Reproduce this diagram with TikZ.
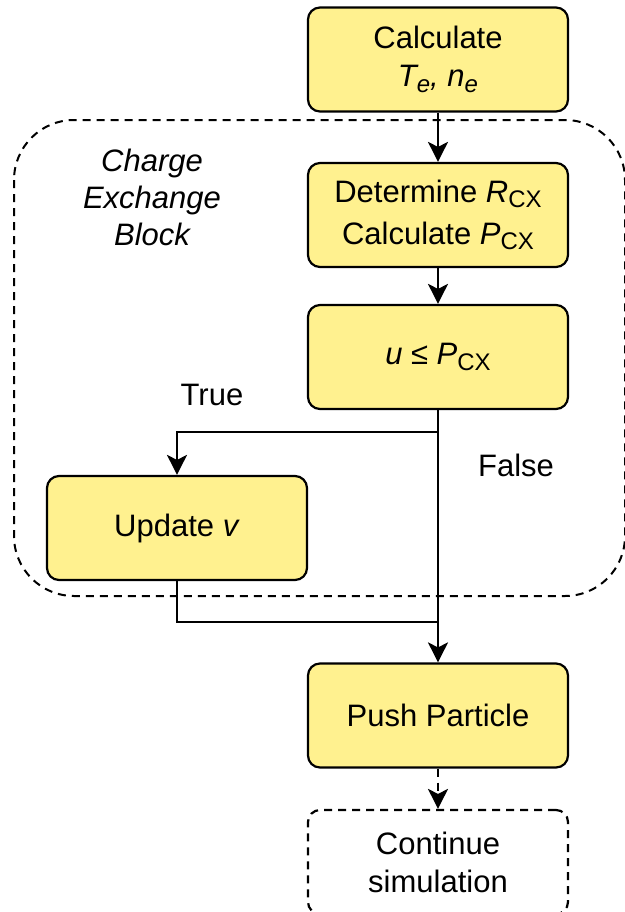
\documentclass[tikz,border=0pt]{standalone}
\usepackage{fontspec}
\setmainfont{Liberation Sans}
\usetikzlibrary{arrows.meta}

\definecolor{boxfill}{RGB}{255,241,143}
\newcommand{\subtxt}[1]{\raisebox{-0.35ex}{\fontsize{12}{12}\selectfont #1}}

\tikzset{
  stepbox/.style={draw, line width=1.1pt, rounded corners=6pt, fill=boxfill,
    minimum width=130pt, minimum height=52pt, align=center,
    font=\fontsize{15.5}{19}\selectfont},
  endbox/.style={stepbox, fill=none, dashed, dash pattern=on 4pt off 3pt},
  lbl/.style={font=\fontsize{15.5}{18.5}\selectfont, align=center},
  flow/.style={line width=1pt, -{Stealth[length=10pt, width=10pt, inset=2.5pt]}},
  line/.style={line width=1pt}
}

\begin{document}
\begin{tikzpicture}[x=0.5pt, y=-0.5pt]
  \useasboundingbox (0,0) rectangle (625,912);
  \clip (0,0) rectangle (625,912);

  % charge exchange frame
  \draw[line width=1pt, dash pattern=on 4pt off 3pt, rounded corners=30pt]
    (14,120) rectangle (625,596);
  \node[lbl, font=\fontsize{15.5}{18.5}\selectfont\itshape] (cxname) at (152,197)
    {Charge\\Exchange\\Block};

  % steps
  \node[stepbox] (calc) at (438,59.5) {Calculate\\\textit{T\subtxt{e}, n\subtxt{e}}};
  \node[stepbox] (det) at (438,215) {Determine \textit{R}\subtxt{CX}\\[2pt]Calculate \textit{P}\subtxt{CX}};
  \node[stepbox] (cond) at (438,357) {\textit{u} ≤ \textit{P}\subtxt{CX}};
  \node[stepbox] (upd) at (177,528) {Update \textit{v}};
  \node[stepbox] (push) at (438,715.5) {Push Particle};
  \node[endbox] (cont) at (438,862) {Continue\\simulation};

  \coordinate (split) at (438,432);
  \coordinate (merge) at (438,622);

  \node[lbl] (truelbl) at (212,395) {True};
  \node[lbl] (falselbl) at (516,465) {False};

  % connectors
  \draw[flow] (calc) -- (det);
  \draw[flow] (det) -- (cond);
  \draw[flow] (cond) -- (push);
  \draw[flow] (split) -| (upd.north);
  \draw[line] (upd.south) |- (merge);
  \draw[flow, dash pattern=on 4pt off 3pt] (push) -- (cont);
\end{tikzpicture}
\end{document}
